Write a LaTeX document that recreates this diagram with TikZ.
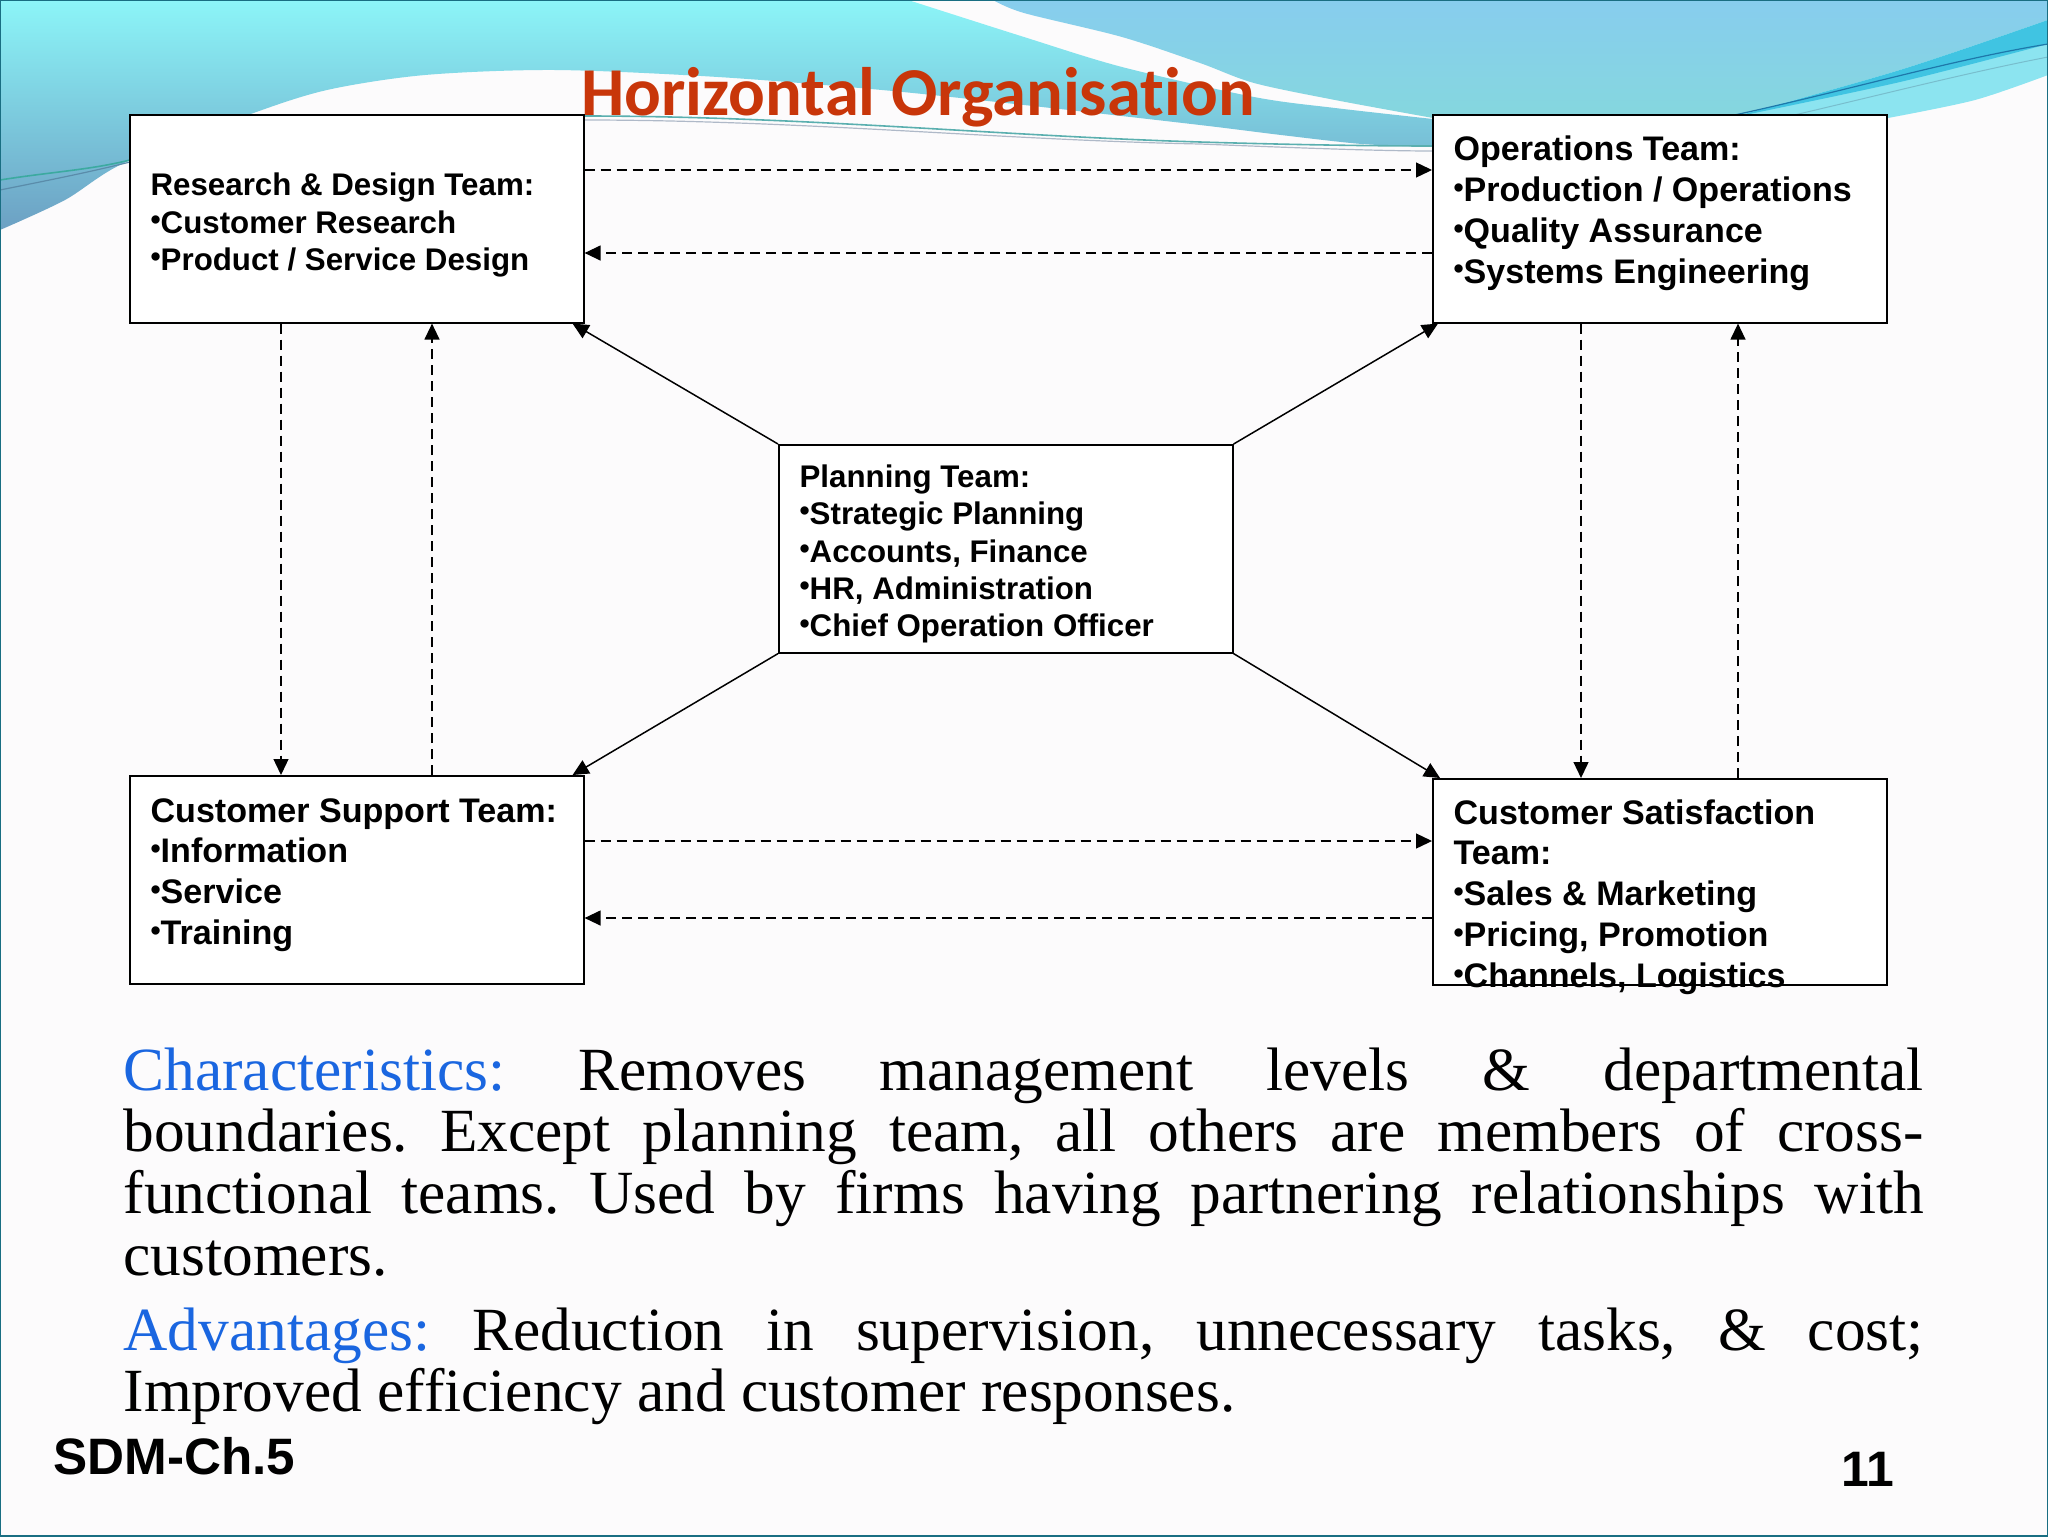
\documentclass[tikz,border=0pt]{standalone}
\usepackage{fontspec}
\setmainfont{Liberation Sans}
\newfontfamily\titlefont[Ligatures=NoCommon]{Carlito}
\newfontfamily\bodyfont{Liberation Serif}
\usetikzlibrary{arrows.meta}
\definecolor{labelblue}{RGB}{26,102,224}
\definecolor{titlered}{RGB}{200,54,10}
\tikzset{every picture/.style={line width=0.6pt}}
\tikzset{
  teambox/.style={draw=black,fill=white,line width=0.8pt,minimum width=227bp,minimum height=104bp,inner sep=0pt,anchor=north west},
  teamtext/.style={inner sep=0pt,anchor=west,align=left,font=\bfseries\fontsize{15.7}{18.75}\selectfont},
  bigteamtext/.style={inner sep=0pt,anchor=west,align=left,font=\bfseries\fontsize{17.1}{20.5}\selectfont},
  solidlink/.style={-{Triangle[length=8bp,width=7.5bp]},line width=0.75pt},
  dashlink/.style={-{Triangle[length=8bp,width=7.5bp]},line width=0.65pt,dash pattern=on 5bp off 3bp},
  bodyline/.style={inner sep=0pt,anchor=base west,font=\bodyfont\fontsize{30.8}{32}\selectfont}
}
\newcommand{\jline}[1]{\makebox[900bp][s]{#1}}
\newcommand{\tb}{\raisebox{0.12em}{\fontsize{14.5}{14.5}\selectfont •}}
\frenchspacing
\begin{document}
\begin{tikzpicture}[x=0.5bp,y=0.5bp,yscale=-1]
\useasboundingbox (0,0) rectangle (2048,1536);
%Shape: Page
\fill [fill={rgb, 255:red, 252; green, 251; blue, 252 }] (0,0) rectangle (2048,1536);
%Shape: Cyan sweep
\shade [top color={rgb, 255:red, 140; green, 245; blue, 248 },middle color={rgb, 255:red, 132; green, 220; blue, 232 },bottom color={rgb, 255:red, 108; green, 160; blue, 195 }] (0,0) -- (908,0) -- plot [smooth] coordinates {(908,0) (1024,37) (1122,67) (1254,97) (1335,108) (1433,119)} -- (1433,147) -- plot [smooth] coordinates {(1433,147) (1362,144) (1281,135) (1200,125) (1024,105) (882,90) (718,77) (555,70) (425,75) (327,90) (248,115) (124,163) (65,200) (0,230)} -- cycle;
%Shape: Blue sweep
\shade [top color={rgb, 255:red, 135; green, 205; blue, 238 },bottom color={rgb, 255:red, 133; green, 215; blue, 222 }] (993,0) -- (2048,0) -- (2048,20) -- plot [smooth] coordinates {(2048,20) (1900,70) (1730,118)} -- (1433,118) -- plot [smooth] coordinates {(1433,118) (1335,100) (1254,83) (1200,63) (1122,37) (1024,13) (993,0)} -- cycle;
%Shape: Right band
\fill [fill={rgb, 255:red, 140; green, 228; blue, 240 }] plot [smooth] coordinates {(2048,20) (1900,70) (1730,118)} -- (1888,118) -- plot [smooth] coordinates {(1888,118) (1975,100) (2048,75)} -- cycle;
\fill [fill={rgb, 255:red, 64; green, 196; blue, 226 }] plot [smooth] coordinates {(2048,20) (1900,70) (1730,118)} -- plot [smooth] coordinates {(1730,118) (1900,82) (2048,44)} -- cycle;
%Shape: Thin lines
\draw [color={rgb, 255:red, 60; green, 170; blue, 160 },line width=0.8pt] (0,180) .. controls (50,172) and (90,170) .. (130,160);
\draw [color={rgb, 255:red, 90; green, 140; blue, 170 },line width=0.6pt] (0,190) .. controls (50,180) and (90,172) .. (130,162);
\draw [color={rgb, 255:red, 90; green, 175; blue, 175 },line width=0.8pt] (584,116) .. controls (800,116) and (1000,136) .. (1200,142) .. controls (1300,145) and (1380,146) .. (1433,146);
\draw [color={rgb, 255:red, 175; green, 185; blue, 200 },line width=0.6pt] (584,120) .. controls (800,120) and (1000,140) .. (1200,144) .. controls (1300,148) and (1380,151) .. (1433,151);
\draw [color={rgb, 255:red, 30; green, 120; blue, 170 },line width=0.6pt] (1730,116) .. controls (1850,90) and (1950,60) .. (2048,44);
\draw [color={rgb, 255:red, 120; green, 190; blue, 205 },line width=0.5pt] (1790,116) .. controls (1880,95) and (1970,72) .. (2048,57);
%Shape: Frame
\draw [color={rgb, 255:red, 25; green, 110; blue, 130 },line width=1pt] (0,0) rectangle (2048,1536);

% Text Node
\draw (918,97) node (title) [anchor=center,inner sep=0pt,font=\titlefont\bfseries\fontsize{34.4}{38}\selectfont,text=titlered] {Horizontal Organisation};

%Shape: Team boxes
\node (research) [teambox] at (129,114) {};
\node (operations) [teambox] at (1432,114) {};
\node (planning) [teambox] at (778,444) {};
\node (support) [teambox] at (129,775) {};
\node (satisfaction) [teambox,minimum height=103bp] at (1432,778) {};

% Text Node
\draw (150,225) node (researchtext) [teamtext] {Research \& Design Team:\\\tb Customer Research\\\tb Product / Service Design};
% Text Node
\draw (1453,213) node (operationstext) [bigteamtext] {Operations Team:\\\tb Production / Operations\\\tb Quality Assurance\\\tb Systems Engineering};
% Text Node
\draw (799,554) node (planningtext) [teamtext] {Planning Team:\\\tb Strategic Planning\\\tb Accounts, Finance\\\tb HR, Administration\\\tb Chief Operation Officer};
% Text Node
\draw (150,875) node (supporttext) [bigteamtext] {Customer Support Team:\\\tb Information\\\tb Service\\\tb Training};
% Text Node
\draw (1453,897) node (satisfactiontext) [bigteamtext] {Customer Satisfaction\\Team:\\\tb Sales \& Marketing\\\tb Pricing, Promotion\\\tb Channels, Logistics};

%Straight Lines
\draw [solidlink] (planning.north west) -- ([xshift=-6bp]research.south east);
\draw [solidlink] (planning.north east) -- ([xshift=3bp]operations.south west);
\draw [solidlink] (planning.south west) -- ([xshift=-6bp]support.north east);
\draw [solidlink] (planning.south east) -- ([xshift=4bp]satisfaction.north west);
%Dashed Lines
\draw [dashlink] (research.east |- 0,170) -- (operations.west |- 0,170);
\draw [dashlink] (operations.west |- 0,253) -- (research.east |- 0,253);
\draw [dashlink] (support.east |- 0,841) -- (satisfaction.west |- 0,841);
\draw [dashlink] (satisfaction.west |- 0,918) -- (support.east |- 0,918);
\draw [dashlink] (research.south -| 281,0) -- (support.north -| 281,0);
\draw [dashlink] (support.north -| 432,0) -- (research.south -| 432,0);
\draw [dashlink] (operations.south -| 1581,0) -- (satisfaction.north -| 1581,0);
\draw [dashlink] (satisfaction.north -| 1738,0) -- (operations.south -| 1738,0);

% Text Node
\draw (123,1090) node (line1) [bodyline] {\jline{\textcolor{labelblue}{Characteristics:} Removes management levels \& departmental}};
\draw (123,1151) node (line2) [bodyline] {\jline{boundaries. Except planning team, all others are members of cross-}};
\draw (123,1213) node (line3) [bodyline] {\jline{functional teams. Used by firms having partnering relationships with}};
\draw (123,1275) node (line4) [bodyline] {customers.};
\draw (123,1350) node (line5) [bodyline] {\jline{\textcolor{labelblue}{Advantages:} Reduction in supervision, unnecessary tasks, \& cost;}};
\draw (123,1411) node (line6) [bodyline] {Improved efficiency and customer responses.};
% Text Node
\draw (53,1474) node (chapter) [inner sep=0pt,anchor=base west,font=\bfseries\fontsize{25.7}{28}\selectfont] {SDM-Ch.5};
% Text Node
\draw (1841,1486) node (pagenum) [inner sep=0pt,anchor=base west,font=\bfseries\fontsize{25}{28}\selectfont] {11};
\end{tikzpicture}
\end{document}
